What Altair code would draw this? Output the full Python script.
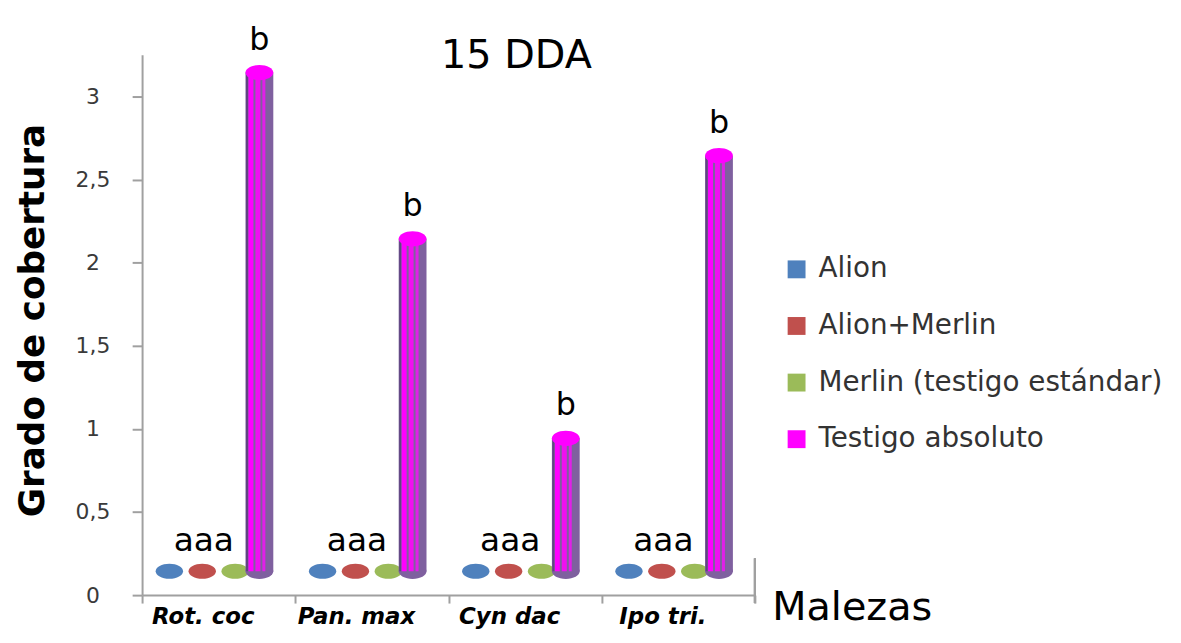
import altair as alt
import pandas as pd

categories = ["Rot. coc", "Pan. max", "Cyn dac", "Ipo tri."]
series = ["Alion", "Alion+Merlin", "Merlin (testigo estándar)", "Testigo absoluto"]
alion = [0, 0, 0, 0]
alion_merlin = [0, 0, 0, 0]
merlin = [0, 0, 0, 0]
testigo = [3.0, 2.0, 0.8, 2.5]
letters_low = ["aaa", "aaa", "aaa", "aaa"]
letters_high = ["b", "b", "b", "b"]
y_ticks = [0, 0.5, 1, 1.5, 2, 2.5, 3]
colors = ["#4F81BD", "#C0504D", "#9BBB59", "#FF00FF"]
chart_title = "15 DDA"

rows = []
for i, c in enumerate(categories):
    for s, vals in zip(series[:3], [alion, alion_merlin, merlin]):
        rows.append({"cat": c, "series": s, "value": vals[i]})
zero_df = pd.DataFrame(rows)
bar_df = pd.DataFrame({"cat": categories, "value": testigo, "zero": alion,
                       "b": letters_high, "a": letters_low})
title_df = pd.DataFrame({"t": [chart_title]})

FONT = "DejaVu Sans"
W, H = 617, 544
DEPTH = -24  # 3D floor depth offset (pixels)
BAR_DX = 41

ELLIPSE = ("M -1 0 C -1 -0.304 -0.552 -0.55 0 -0.55 C 0.552 -0.55 1 -0.304 1 0 "
           "C 1 0.304 0.552 0.55 0 0.55 C -0.552 0.55 -1 0.304 -1 0 Z")

x_enc = alt.X(
    "cat:N", sort=categories, title="Malezas",
    scale=alt.Scale(domain=categories, paddingInner=0, paddingOuter=0),
    axis=alt.Axis(
        tickBand="extent", domainColor="#A0A0A0", domainWidth=2, tickColor="#A0A0A0",
        tickWidth=2, tickSize=8, labelAngle=0, labelFont=FONT, labelFontSize=23,
        labelFontWeight="bold", labelFontStyle="italic", labelColor="black",
        labelPadding=3, labelOffset=-16, titleFont=FONT, titleFontSize=40,
        titleFontWeight="normal", titleColor="black", titleAlign="left",
        titleBaseline="alphabetic", titleX=W + 17, titleY=25,
    ),
)
yscale = alt.Scale(domain=[0, 3.25], nice=False, zero=True)
y_axis = alt.Axis(
    values=y_ticks, grid=False, domainColor="#A0A0A0", domainWidth=2,
    tickColor="#A0A0A0", tickWidth=2, tickSize=10, labelFont=FONT, labelFontSize=22,
    labelColor="#3A3A3A", labelAlign="center", labelBaseline="middle", labelPadding=40,
    labelExpr="replace(format(datum.value, '~g'), '.', ',')",
    titleFont=FONT, titleFontSize=36, titleFontWeight="bold", titleColor="black",
    titleAngle=270, titleAlign="center", titleBaseline="middle", titleX=-110, titleY=267,
)
y_enc = alt.Y("value:Q", scale=yscale, axis=y_axis, title="Grado de cobertura")
y_zero = alt.Y("zero:Q", scale=yscale, axis=y_axis, title="Grado de cobertura")

ellipses = alt.Chart(zero_df).mark_point(
    shape=ELLIPSE, filled=True, size=760, opacity=1, yOffset=DEPTH
).encode(
    x=x_enc,
    xOffset=alt.XOffset("series:N", sort=series,
                        scale=alt.Scale(domain=series, paddingInner=0, paddingOuter=0.83)),
    y=y_enc,
    color=alt.Color(
        "series:N", sort=series, scale=alt.Scale(domain=series, range=colors),
        legend=alt.Legend(
            title=None, orient="none", legendX=645, legendY=202, symbolType="square",
            symbolSize=324, symbolStrokeWidth=0, labelFont=FONT, labelFontSize=28,
            labelColor="#333333", labelOffset=8, rowPadding=29, labelLimit=0,
        ),
    ),
)

base = alt.Chart(bar_df)

bottom_cap = base.mark_point(
    shape=ELLIPSE, filled=True, size=784, opacity=1, color="#7F609F", yOffset=DEPTH,
    xOffset=BAR_DX,
).encode(x=x_enc, y=y_zero)

bar_body = base.mark_bar(
    width=28, color="#7F609F", xOffset=BAR_DX, yOffset=DEPTH, y2Offset=DEPTH
).encode(x=x_enc, y=y_enc, y2="zero:Q")

stripes = []
for dx, w, col in [(-12.5, 2, "#5E4680"), (-8.5, 5, "#FF00FF"), (-1.5, 5, "#F010F0"),
                   (4.5, 3, "#E020E8")]:
    stripes.append(
        base.mark_bar(width=w, color=col, xOffset=BAR_DX + dx, yOffset=DEPTH, y2Offset=DEPTH)
        .encode(x=x_enc, y=y_enc, y2="zero:Q")
    )

top_cap = base.mark_point(
    shape=ELLIPSE, filled=True, size=784, opacity=1, color="#FF00FF", yOffset=DEPTH,
    xOffset=BAR_DX,
).encode(x=x_enc, y=y_enc)

b_text = base.mark_text(
    font=FONT, fontSize=32, color="black", baseline="middle", dx=BAR_DX, dy=DEPTH - 33
).encode(x=x_enc, y=y_enc, text="b:N")

a_text = base.mark_text(
    font=FONT, fontSize=33, color="black", baseline="middle", dx=-15, dy=DEPTH - 30
).encode(x=x_enc, y=y_zero, text="a:N")

end_rule = alt.Chart(bar_df).mark_rule(color="#A0A0A0", strokeWidth=2).encode(
    x=alt.value(W), y=alt.value(H - 37), y2=alt.value(H + 8)
)

title_text = alt.Chart(title_df).mark_text(
    font=FONT, fontSize=40, color="black", baseline="alphabetic", align="center"
).encode(x=alt.value(377), y=alt.value(13), text="t:N")

chart = alt.layer(
    ellipses, bottom_cap, bar_body, *stripes, top_cap, b_text, a_text, end_rule, title_text
).properties(
    width=W, height=H,
    background="white",
    autosize=alt.AutoSizeParams(type="none"),
    padding={"left": 135, "top": 45, "right": 421, "bottom": 38},
).configure_view(stroke=None)

chart.save("out.html", embed_options={"renderer": "svg", "actions": False})
